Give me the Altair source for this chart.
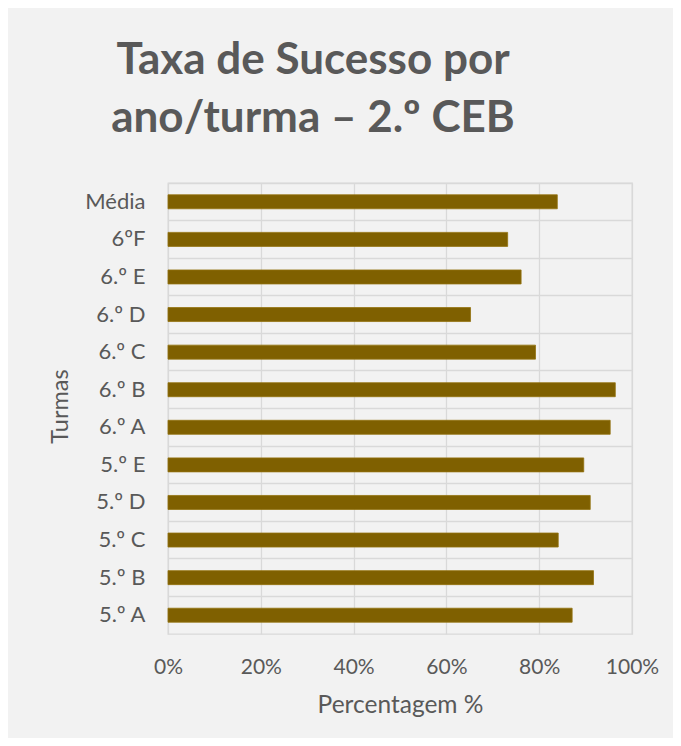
import altair as alt
import pandas as pd

turmas = ["Média", "6ºF", "6.º E", "6.º D", "6.º C", "6.º B", "6.º A",
          "5.º E", "5.º D", "5.º C", "5.º B", "5.º A"]
taxas = [0.839, 0.732, 0.761, 0.652, 0.792, 0.964, 0.953,
         0.896, 0.910, 0.841, 0.917, 0.871]
x_ticks = [0, 0.2, 0.4, 0.6, 0.8, 1.0]

df = pd.DataFrame({"Turma": turmas, "Taxa": taxas})

FONT = "Lato"
GREY = "#595959"

chart = (
    alt.Chart(df)
    .mark_bar(size=14, color="#7F6000", stroke="#93720f", strokeWidth=0.8)
    .encode(
        x=alt.X(
            "Taxa:Q",
            scale=alt.Scale(domain=[0, 1], nice=False),
            axis=alt.Axis(
                values=x_ticks,
                format=".0%",
                title="Percentagem %",
                ticks=False,
                domain=False,
                labelPadding=39,
                labelBaseline="alphabetic",
                labelFontSize=21,
                labelColor=GREY,
                labelFont=FONT,
                labelFlush=False,
                titleFontSize=24.5,
                titleFontWeight="normal",
                titleColor=GREY,
                titleFont=FONT,
                titleBaseline="alphabetic",
                titleY=78,
                gridColor="#D9D9D9",
                gridWidth=1.3,
            ),
        ),
        y=alt.Y(
            "Turma:N",
            sort=turmas,
            scale=alt.Scale(paddingInner=0, paddingOuter=0),
            axis=alt.Axis(
                title="Turmas",
                ticks=False,
                domain=False,
                grid=True,
                bandPosition=0,
                labelPadding=23,
                labelFontSize=22,
                labelColor=GREY,
                labelFont=FONT,
                titleFontSize=23.5,
                titleFontWeight="normal",
                titleColor=GREY,
                titleFont=FONT,
                titleAngle=-90,
                titleBaseline="alphabetic",
                titleX=-101,
                titleY=223,
                titleAlign="center",
                gridColor="#D9D9D9",
                gridWidth=1.3,
            ),
        ),
    )
    .properties(
        width=464,
        height=451,
        title=alt.TitleParams(
            text=["Taxa de Sucesso por", "ano/turma – 2.º CEB"],
            font=FONT,
            fontSize=44,
            fontWeight="bold",
            color=GREY,
            anchor="middle",
            frame="group",
            dx=-87,
            baseline="alphabetic",
            lineHeight=58,
            offset=7,
        ),
        autosize=alt.AutoSizeParams(type="none"),
        padding={"left": 160, "top": 175, "right": 41, "bottom": 104},
        background="#F2F2F2",
    )
    .configure_view(stroke="#D9D9D9", strokeWidth=1.3)
)

chart.save("out.html", embed_options={"renderer": "svg", "actions": False})
